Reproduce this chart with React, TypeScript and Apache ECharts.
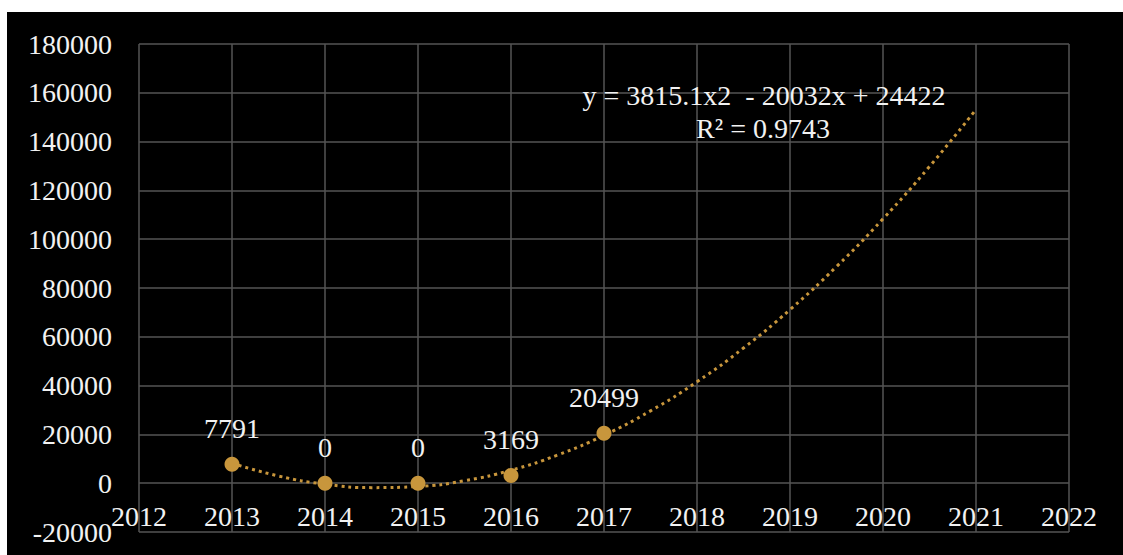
import React, { useEffect, useRef } from "react";
import * as echarts from "echarts";

const years = [2013, 2014, 2015, 2016, 2017];
const values = [7791, 0, 0, 3169, 20499];

// trendline (dotted curve), 2013 → 2021
const trendYears = [2013, 2013.5, 2014, 2014.5, 2015, 2015.5, 2016, 2016.5, 2017, 2017.5, 2018, 2018.5, 2019, 2019.5, 2020, 2020.5, 2021];
const trendValues = [8205, 2958, -382, -1814, -1338, 1045, 5336, 11534, 19640, 29653, 41574, 55402, 71138, 88781, 108332, 129791, 153157];

const equationText = "y = 3815.1x2  - 20032x + 24422";
const r2Text = "R² = 0.9743";

const FONT = '"Liberation Serif", "Times New Roman", serif';
const GOLD = "#c8963c";
const GRID = "#555555";
const FS = 28;

export default function App() {
  const ref = useRef<HTMLDivElement>(null);
  useEffect(() => {
    document.body.style.margin = "0";
    const chart = echarts.init(ref.current!, null, { renderer: "svg" });
    chart.setOption({
      animation: false,
      backgroundColor: "#ffffff",
      textStyle: { fontFamily: FONT },
      graphic: [
        {
          type: "rect",
          z: -10,
          shape: { x: 7, y: 12, width: 1116, height: 543 },
          style: { fill: "#000000" },
          silent: true,
        },
        {
          type: "text",
          z: 10,
          x: 764,
          y: 95,
          style: {
            text: equationText,
            fill: "#f2f2f2",
            font: `${FS}px ${FONT}`,
            align: "center",
            verticalAlign: "middle",
          },
        },
        {
          type: "text",
          z: 10,
          x: 763,
          y: 128,
          style: {
            text: r2Text,
            fill: "#f2f2f2",
            font: `${FS}px ${FONT}`,
            align: "center",
            verticalAlign: "middle",
          },
        },
      ],
      grid: { left: 139, right: 54, top: 44, bottom: 23, containLabel: false, outerBoundsMode: "none" },
      xAxis: {
        type: "value",
        min: 2012,
        max: 2022,
        interval: 1,
        axisLine: { show: false },
        axisTick: { show: false },
        axisLabel: {
          color: "#f2f2f2",
          fontSize: FS,
          fontFamily: FONT,
          inside: true,
          margin: 2,
          formatter: (v: number) => String(v),
        },
        splitLine: { show: true, lineStyle: { color: GRID, width: 1.5 } },
      },
      yAxis: {
        type: "value",
        min: -20000,
        max: 180000,
        interval: 20000,
        axisLine: { show: false },
        axisTick: { show: false },
        axisLabel: {
          color: "#f2f2f2",
          fontSize: FS,
          fontFamily: FONT,
          margin: 27,
          formatter: (v: number) => String(v),
        },
        splitLine: { show: true, lineStyle: { color: GRID, width: 1.5 } },
      },
      series: [
        {
          type: "line",
          data: trendYears.map((y, i) => [y, trendValues[i]]),
          smooth: true,
          showSymbol: false,
          symbol: "none",
          lineStyle: { color: GOLD, width: 3, type: [3, 4] },
          z: 2,
          silent: true,
        },
        {
          type: "scatter",
          data: years.map((y, i) => [y, values[i]]),
          symbol: "circle",
          symbolSize: 15,
          itemStyle: { color: GOLD, opacity: 1 },
          z: 3,
          label: {
            show: true,
            position: "top",
            distance: 14,
            color: "#f2f2f2",
            opacity: 1,
            fontSize: FS,
            fontFamily: FONT,
            formatter: (p: any) => String(p.value[1]),
          },
        },
      ],
    });
    return () => chart.dispose();
  }, []);
  return (
    <div style={{ position: "fixed", left: 0, top: 0 }}>
      <div ref={ref} style={{ width: 1123, height: 555 }} />
    </div>
  );
}
